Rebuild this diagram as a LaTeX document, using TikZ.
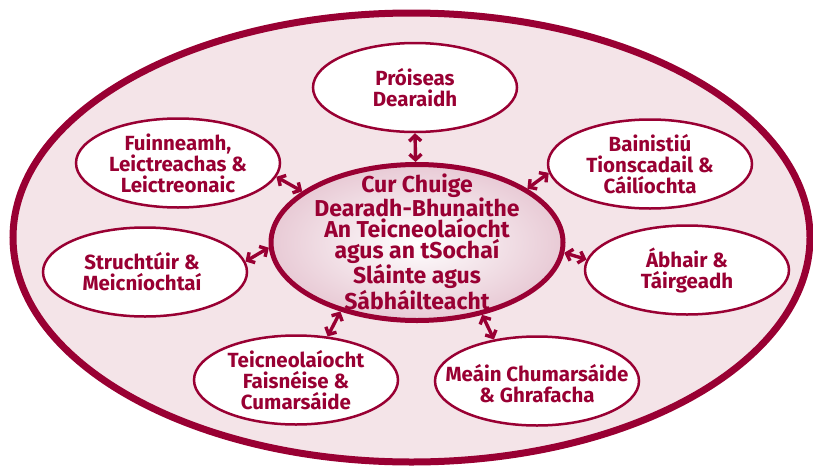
\documentclass[tikz,border=0pt]{standalone}
\usepackage{fontspec}
\setmainfont{Fira Sans}
\usetikzlibrary{shapes.geometric,arrows.meta}
\definecolor{maroon}{RGB}{153,0,51}
\definecolor{bgpink}{RGB}{244,228,232}
\definecolor{cpink}{RGB}{232,202,213}
\begin{document}
\begin{tikzpicture}[x=1pt,y=-1pt,
  outerell/.style={ellipse, draw=maroon, fill=white, line width=2.5pt, minimum width=204pt, minimum height=89pt, inner sep=0pt},
  lbl/.style={text=maroon, font=\fontsize{20.5}{21}\selectfont\bfseries, align=center, inner sep=0pt},
  clbl/.style={text=maroon, font=\fontsize{23}{20.8}\selectfont\bfseries, align=center, inner sep=0pt},
  arr/.style={draw=maroon, line width=3.4pt, {Straight Barb[length=5.5pt,width=12pt]}-{Straight Barb[length=5.5pt,width=12pt]}}]
\useasboundingbox (0,0) rectangle (813,466);
\node[ellipse, draw=maroon, fill=bgpink, line width=7pt, minimum width=797pt, minimum height=449pt, inner sep=0pt] (bg) at (411.5,237.5) {};
\node[ellipse, draw=maroon, line width=5pt, inner color=white, outer color=cpink, minimum width=292pt, minimum height=156pt, inner sep=0pt] (c) at (417,242.5) {};
\node[outerell] (p) at (415,87.5) {};
\node[outerell] (fu) at (178,163) {};
\node[outerell] (st) at (145,272) {};
\node[outerell] (ba) at (650,164) {};
\node[outerell] (ab) at (687,270) {};
\node[outerell] (te) at (296,380) {};
\node[outerell] (me) at (537,381) {};
\node[clbl] (ct) at ([yshift=1pt]c.center) {Cur Chuige\\Dearadh-Bhunaithe\\An Teicneolaíocht\\agus an tSochaí\\Sláinte agus\\Sábháilteacht};
\node[lbl] (pt) at (p) {Próiseas\\Dearaidh};
\node[lbl] (fut) at (fu) {Fuinneamh,\\Leictreachas \&\\Leictreonaic};
\node[lbl] (stt) at ([xshift=-3pt]st.center) {Struchtúir \&\\Meicníochtaí};
\node[lbl] (bat) at (ba) {Bainistiú\\Tionscadail \&\\Cáilíochta};
\node[lbl] (abt) at (ab) {Ábhair \&\\Táirgeadh};
\node[lbl] (tet) at (te) {Teicneolaíocht\\Faisnéise \&\\Cumarsáide};
\node[lbl] (met) at ([yshift=-3pt]me.center) {Meáin Chumarsáide\\\& Ghrafacha};
\draw[arr] (p.south) -- (c.91);
\draw[arr] (fu.-8) -- (c.156);
\draw[arr] (ba.-175) -- (c.26);
\draw[arr] (st.6) -- (c.182);
\draw[arr] (ab.174) -- (c.-4);
\draw[arr] (te.54) -- (c.222);
\draw[arr] (me.136) -- (c.-48);
\end{tikzpicture}
\end{document}
